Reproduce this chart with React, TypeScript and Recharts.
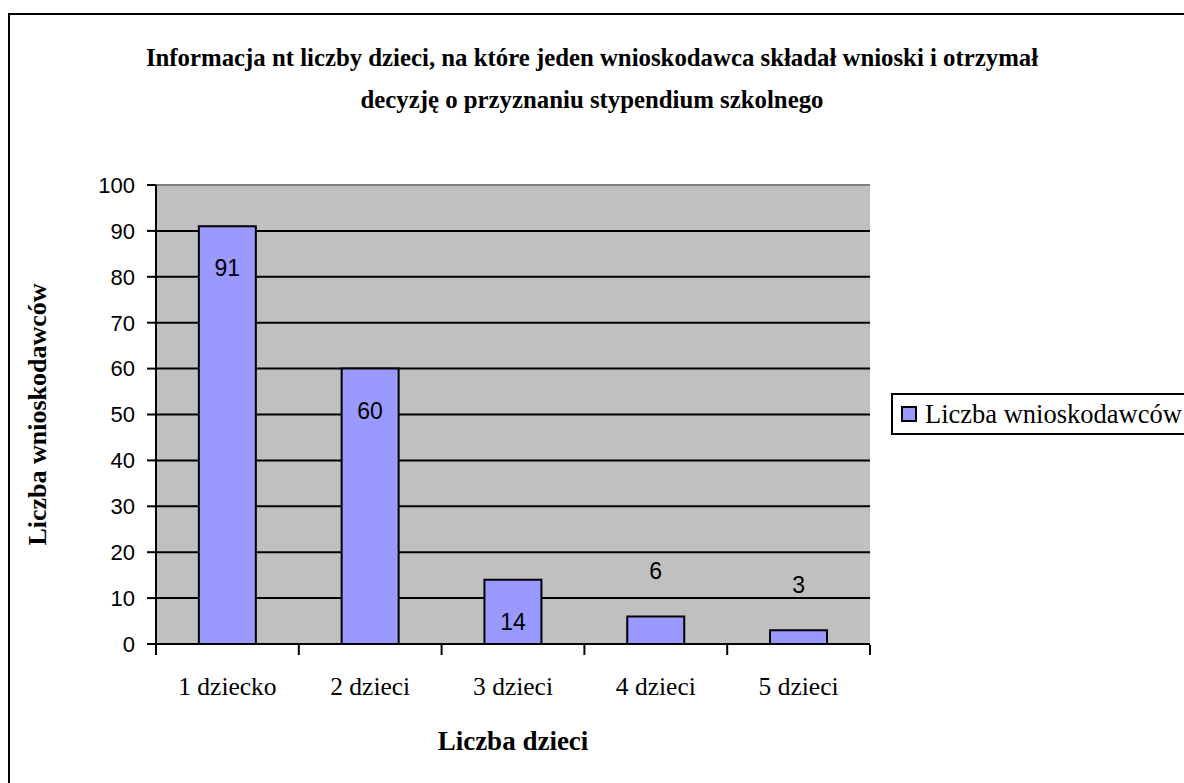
import React from 'react';
import {
  BarChart,
  Bar,
  XAxis,
  YAxis,
  CartesianGrid,
  Legend,
  LabelList,
  ReferenceLine,
  Label,
} from 'recharts';

const categories = ['1 dziecko', '2 dzieci', '3 dzieci', '4 dzieci', '5 dzieci'];
const applicants = [91, 60, 14, 6, 3];
const yTicks = [0, 10, 20, 30, 40, 50, 60, 70, 80, 90, 100];

const seriesName = 'Liczba wnioskodawców';
const titleLines = [
  'Informacja nt liczby dzieci, na które jeden wnioskodawca składał wnioski i otrzymał',
  'decyzję o przyznaniu stypendium szkolnego',
];

const data = categories.map((name, i) => ({ name, value: applicants[i] }));

const SERIF = '"Liberation Serif", "Times New Roman", serif';
const SANS = '"Liberation Sans", Arial, sans-serif';

// label under each category, plus Excel-style tick marks on the category boundaries
const CategoryTick = (props: any) => {
  const { x, y, payload, index } = props;
  const half = payload.offset || 0;
  const isLast = index === categories.length - 1;
  return (
    <g>
      <line x1={x - half} x2={x - half} y1={y - 1} y2={y + 9} stroke="#000" strokeWidth={2} />
      {isLast && <line x1={x + half} x2={x + half} y1={y - 1} y2={y + 9} stroke="#000" strokeWidth={2} />}
      <text x={x} y={y + 49} textAnchor="middle" fontFamily={SERIF} fontSize={25.5} fill="#000">
        {payload.value}
      </text>
    </g>
  );
};

const ValueLabel = (props: any) => {
  const { x, y, width, value } = props;
  const cy = value >= 10 ? y + 42 : y - 45;
  return (
    <text
      x={x + width / 2}
      y={cy}
      textAnchor="middle"
      dominantBaseline="central"
      fontFamily={SANS}
      fontSize={23}
      fill="#000"
    >
      {value}
    </text>
  );
};

const LegendBox = (props: any) => {
  const item = props.payload && props.payload[0];
  return (
    <div
      style={{
        boxSizing: 'border-box',
        width: 300,
        height: 42,
        border: '2px solid #000',
        background: '#fff',
        display: 'flex',
        alignItems: 'center',
        paddingLeft: 8,
        fontFamily: SERIF,
        fontSize: 26.5,
        whiteSpace: 'nowrap',
      }}
    >
      <span
        style={{
          display: 'inline-block',
          width: 12,
          height: 12,
          background: item ? item.color : '#9999FF',
          border: '2px solid #000',
          marginRight: 8,
        }}
      />
      <span>{item ? item.value : seriesName}</span>
    </div>
  );
};

export default function App() {
  return (
    <div style={{ position: 'relative', width: 1184, height: 783, overflow: 'hidden', background: '#fff' }}>
      <style>{'body{margin:0;overflow:hidden}'}</style>
      <div
        style={{
          position: 'absolute',
          left: 8,
          top: 13,
          width: 1300,
          height: 900,
          borderLeft: '2px solid #000',
          borderTop: '2px solid #000',
        }}
      />
      {titleLines.map((line, i) => (
        <div
          key={i}
          style={{
            position: 'absolute',
            left: 0,
            width: 1184,
            top: 45 + i * 42,
            textAlign: 'center',
            fontFamily: SERIF,
            fontWeight: 'bold',
            fontSize: 24.8,
            lineHeight: '25px',
            whiteSpace: 'nowrap',
          }}
        >
          {line}
        </div>
      ))}
      <div style={{ position: 'absolute', left: 0, top: 0 }}>
        <BarChart
          width={1184}
          height={783}
          data={data}
          barCategoryGap="30%"
          margin={{ top: 185, right: 314, bottom: 138, left: 16 }}
        >
          <CartesianGrid vertical={false} fill="#C0C0C0" stroke="#000" strokeWidth={2} />
          <ReferenceLine y={100} stroke="#808080" strokeWidth={2} />
          <ReferenceLine x={5} xAxisId="edges" stroke="#808080" strokeWidth={2} />
          <XAxis
            dataKey="name"
            height={1}
            tickLine={false}
            tickSize={0}
            tick={<CategoryTick />}
            axisLine={{ stroke: '#000', strokeWidth: 2 }}
            interval={0}
          >
            <Label
              content={(p: any) => (
                <text
                  x={p.viewBox.x + p.viewBox.width / 2}
                  y={p.viewBox.y + 106}
                  textAnchor="middle"
                  fontFamily={SERIF}
                  fontWeight="bold"
                  fontSize={27}
                  fill="#000"
                >
                  Liczba dzieci
                </text>
              )}
            />
          </XAxis>
          <XAxis xAxisId="edges" type="number" domain={[0, 5]} allowDataOverflow hide />
          <YAxis
            width={140}
            domain={[0, 100]}
            ticks={yTicks}
            interval={0}
            tickSize={9}
            tickMargin={12}
            tickLine={{ stroke: '#000', strokeWidth: 2 }}
            axisLine={{ stroke: '#000', strokeWidth: 2 }}
            tick={{ fontFamily: SANS, fontSize: 22, fill: '#000' }}
          >
            <Label
              content={(p: any) => {
                const cx = p.viewBox.x + 21;
                const cy = p.viewBox.y + p.viewBox.height / 2;
                return (
                  <text
                    x={cx}
                    y={cy}
                    transform={`rotate(-90, ${cx}, ${cy})`}
                    textAnchor="middle"
                    dominantBaseline="central"
                    fontFamily={SERIF}
                    fontWeight="bold"
                    fontSize={26}
                    fill="#000"
                  >
                    {seriesName}
                  </text>
                );
              }}
            />
          </YAxis>
          <Legend
            layout="vertical"
            align="center"
            verticalAlign="middle"
            content={<LegendBox />}
            wrapperStyle={{ left: 891, top: 393, width: 300 }}
          />
          <Bar
            dataKey="value"
            name={seriesName}
            fill="#9999FF"
            stroke="#000"
            strokeWidth={2}
            isAnimationActive={false}
          >
            <LabelList dataKey="value" content={<ValueLabel />} />
          </Bar>
        </BarChart>
      </div>
    </div>
  );
}
